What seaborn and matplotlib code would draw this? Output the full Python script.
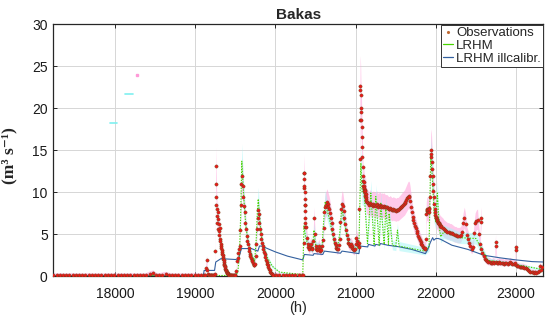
import numpy as np
import pandas as pd
import matplotlib
matplotlib.use("Agg")
import matplotlib.pyplot as plt
from matplotlib.lines import Line2D
import seaborn as sns

# ---------------- data ----------------
# observation segments: (start hour, step hours, flow values m3/s)
obs_seg1 = (17230, 40, [0.1, 0.1, 0.12, 0.1, 0.1, 0.1, 0.12, 0.1, 0.1, 0.1,
                        0.1, 0.12, 0.1, 0.1, 0.1, 0.1, 0.1, 0.12, 0.1, 0.1,
                        0.1, 0.1, 0.1, 0.1, 0.12, 0.1, 0.1, 0.1, 0.1, 0.15,
                        0.3, 0.4, 0.15, 0.12, 0.2, 0.25, 0.15, 0.1, 0.1, 0.1,
                        0.1, 0.1, 0.1, 0.12, 0.12, 0.1, 0.1, 0.1])
obs_seg2 = (19120, 10, [0.12, 1.0, 1.9, 0.8, 0.3, 0.15, 0.12, 0.1, 0.1, 0.1, 0.12, 0.15])
obs_seg3 = (19244, 4, [0.3, 3.0, 8.5, 13.1, 11.0, 9.4, 8.0, 7.2, 6.4, 7.6,
                       6.8, 5.6, 6.2, 5.4, 4.9, 4.5, 5.8, 4.2, 3.8, 3.6,
                       3.4, 3.1, 2.9, 2.7, 2.5, 2.3, 2.1, 1.9, 1.7, 1.5,
                       1.35, 1.2, 1.05, 0.9, 0.8, 0.7, 0.6, 0.5, 0.45, 0.4,
                       0.35, 0.3, 0.25, 0.2, 0.18])
obs_seg4 = (19430, 10, [0.15, 0.15, 0.12, 0.1, 0.1, 0.1, 0.12, 0.15, 0.6, 1.8])
obs_seg5 = (19528, 8, [2.2, 2.8, 3.2, 3.6, 5.5, 8.5, 11.0, 12.0, 10.8, 9.5,
                       8.4, 7.6, 6.4, 5.6, 4.8, 4.2, 3.8, 3.4, 3.0, 2.7,
                       2.4, 2.2, 2.0, 1.8, 1.6, 1.4, 1.3, 1.5, 2.4, 3.8,
                       5.6, 7.0, 7.9, 7.4, 6.4, 5.6, 5.0, 4.4, 4.0, 3.6,
                       3.2, 2.9, 2.6, 2.3, 2.0, 1.7, 1.5, 1.3, 1.1, 0.9,
                       0.7, 0.55, 0.4, 0.3, 0.25])
obs_seg6 = (19968, 40, [0.2, 0.15, 0.12, 0.1, 0.1, 0.1, 0.1, 0.1, 0.12, 0.15])
obs_seg7 = (20340, 10, [0.2, 4.0, 12.3, 8.5, 5.9, 4.6, 3.9, 3.5, 3.3, 3.5,
                        3.8, 3.4, 3.2, 4.2, 6.9, 5.0, 3.6, 3.3, 3.1, 3.3,
                        3.6, 3.3, 3.0, 3.1, 3.6, 4.3, 5.8, 7.6, 8.3, 8.5,
                        8.8, 8.6, 8.3, 8.0, 7.5, 7.0, 6.3, 5.6, 5.0, 4.4,
                        4.0, 3.7, 3.4, 3.2, 3.3, 3.7, 4.5, 6.5, 8.0, 8.6,
                        8.4, 7.8, 7.0, 6.2, 5.5, 4.9, 4.4, 4.0, 3.8, 3.6,
                        3.8, 3.6, 3.4, 3.2, 3.1, 3.3, 3.8, 4.6, 4.2, 3.7,
                        3.5])
obs_seg7b = (20354, 2, [10.5, 12.3, 11.6, 10.8, 10.0, 9.2, 8.5, 7.8, 7.0, 6.4, 5.9])
obs_seg8 = (21044, 3, [4.0, 8.0, 14.0, 18.6, 22.6, 22.2, 21.6, 20.0, 19.6, 18.6,
                       17.8, 16.6, 15.4, 14.2, 13.0, 12.0, 11.4, 10.8, 10.4, 10.8,
                       11.2, 10.5, 10.1, 10.3, 9.9, 9.6, 10.2, 9.8, 9.4, 9.2,
                       9.0, 8.9, 8.8])
obs_seg9 = (21150, 10, [8.7, 8.6, 8.5, 8.7, 8.6, 8.5, 8.4, 8.6, 8.5, 8.5,
                        8.4, 8.6, 8.5, 8.3, 8.4, 8.5, 8.4, 8.3, 8.4, 8.3,
                        8.4, 8.3, 8.2, 8.2, 8.2, 8.1, 8.0, 8.0, 8.1, 8.0,
                        7.9, 7.9, 8.0, 7.9, 7.9, 7.8, 7.9, 7.9, 7.9, 8.0,
                        8.1, 8.2, 8.3, 8.4, 8.5, 8.6, 8.7, 8.9, 9.1, 9.3,
                        9.5, 9.6, 9.5, 9.0, 8.3, 7.6, 7.1, 6.7, 6.3, 6.0,
                        5.7, 5.4, 5.1, 4.8, 4.6, 4.3, 4.1, 3.9, 3.7, 3.5,
                        3.4, 3.3])
obs_seg10 = (21870, 5, [3.4, 4.5, 7.4, 7.8, 8.0, 7.9, 7.6, 7.9, 8.1, 7.7,
                        8.0, 9.5, 12.0, 14.2, 15.0, 14.6, 13.6, 12.8, 12.0, 11.0,
                        10.2, 9.4, 8.6, 8.0, 7.6, 7.3, 7.1, 6.9, 6.8, 6.7,
                        6.6, 6.5, 6.4, 6.3, 6.3, 6.2, 6.1, 6.0, 6.0])
obs_seg11 = (22070, 15, [5.9, 5.8, 5.6, 5.5, 5.4, 5.3, 5.3, 5.2, 5.2, 5.1,
                         5.0, 4.9, 4.9, 4.8, 4.8, 4.8, 4.9, 5.3, 6.3, 6.9,
                         6.2, 4.9, 4.5, 4.0, 3.6, 3.3, 3.5, 5.2, 6.3, 6.6,
                         6.7, 5.0, 3.8, 3.2, 2.8, 2.4, 2.1, 1.9, 1.8, 1.7,
                         1.7, 1.6, 1.6, 1.7, 1.6, 1.7, 1.6, 1.6, 1.7, 1.6,
                         1.6, 1.6, 1.5, 1.6, 1.6, 1.5, 1.6, 1.7, 1.6, 1.5,
                         1.5, 1.6, 1.4, 1.2, 1.2, 1.1, 1.1, 1.1, 1.1, 1.0,
                         1.0, 0.9, 0.7, 0.6, 0.5, 0.5, 0.5, 0.4, 0.5, 0.4,
                         0.5, 0.6, 1.2, 0.8, 1.1])
obs_extra_t = [22560, 22563, 22745, 22748, 22994, 22997]
obs_extra_v = [6.9, 6.5, 4.1, 3.6, 3.5, 3.1]

# LRHM (calibrated) simulation
lrhm_t = [17230, 19500, 19530, 19550, 19565, 19580, 19595, 19610, 19630, 19660,
          19700, 19740, 19760, 19775, 19785, 19800, 19820, 19850, 19900, 19960,
          20050, 20340, 20355, 20370, 20400, 20460, 20480, 20500, 20580, 20600,
          20620, 20640, 20680, 20740, 20770, 20800, 20825, 20850, 20900, 20970,
          21040, 21055, 21065, 21080, 21106, 21147, 21189, 21230, 21251, 21293,
          21313, 21355, 21376, 21409, 21417, 21458, 21500, 21521, 21541, 21700,
          21860, 21915, 21936, 21955, 21978, 21998, 22019, 22040, 22060, 22100,
          22300, 22500, 22650, 23000, 23340]
lrhm_v = [0.05, 0.1, 0.5, 2.5, 7.0, 13.7, 11.0, 8.5, 6.0, 4.0,
          2.6, 1.8, 4.5, 8.0, 9.2, 7.2, 5.0, 3.5, 2.2, 1.2,
          0.5, 0.2, 6.0, 5.0, 3.8, 3.3, 5.5, 3.6, 3.4, 6.5,
          8.9, 8.0, 6.5, 3.8, 3.3, 5.0, 8.0, 7.0, 4.3, 3.3,
          3.4, 10.0, 13.5, 10.0, 9.9, 3.9, 9.9, 3.7, 9.5, 3.7,
          8.7, 3.8, 8.3, 3.8, 7.5, 3.7, 3.6, 5.5, 3.6, 3.3,
          3.0, 3.5, 14.4, 12.0, 7.5, 6.5, 9.9, 6.0, 4.7, 5.3,
          4.6, 4.5, 1.9, 1.4, 0.8]

# LRHM ill-calibrated simulation
ill_t = [17230, 19100, 19110, 19240, 19255, 19320, 19500, 19540, 19575, 19700,
         19780, 19800, 19830, 19900, 20000, 20150, 20340, 20360, 20470, 20480,
         20590, 20610, 20810, 20830, 21040, 21055, 21150, 21160, 21240, 21250,
         21300, 21310, 21400, 21550, 21700, 21870, 21900, 21930, 21960, 21975,
         22000, 22030, 22060, 22200, 22400, 22600, 22800, 23000, 23200, 23340]
ill_v = [0.05, 0.05, 0.7, 0.7, 1.7, 2.1, 2.0, 2.1, 3.3, 3.3,
         3.0, 3.6, 3.6, 3.3, 2.9, 2.4, 1.95, 2.6, 2.5, 2.7,
         2.6, 3.0, 2.75, 3.0, 2.7, 3.6, 3.5, 3.8, 3.6, 3.8,
         3.7, 3.9, 3.7, 3.5, 3.2, 2.7, 3.2, 4.0, 4.6, 4.3,
         4.5, 4.5, 4.4, 3.7, 3.2, 2.5, 2.2, 1.95, 1.75, 1.7]

# stray marks seen in the upper-left of the reference
stray_cyan_t = [[17935, 18025], [18120, 18225]]
stray_cyan_v = [[18.3, 18.3], [21.65, 21.65]]
stray_pink_t = [18278]
stray_pink_v = [24.0]

OBS_REL_UNC = 0.15
OBS_ABS_UNC = 0.3
SIM_REL_UNC = 0.15

x_ticks = [18000, 19000, 20000, 21000, 22000, 23000]
y_ticks = [0, 5, 10, 15, 20, 25, 30]

# ---------------- build tables ----------------
def expand(seg):
    start, step, vals = seg
    return [start + step * i for i in range(len(vals))], list(vals)

segs = [obs_seg1, obs_seg2, obs_seg3, obs_seg4, obs_seg5, obs_seg6, obs_seg7,
        obs_seg7b, obs_seg8, obs_seg9, obs_seg10, obs_seg11]
ot, ov = [], []
for s in segs:
    t, v = expand(s)
    ot += t
    ov += v
ot += obs_extra_t
ov += obs_extra_v
obs = pd.DataFrame({"t": ot, "q": ov}).sort_values("t").reset_index(drop=True)
lrhm = pd.DataFrame({"t": lrhm_t, "q": lrhm_v})
ill = pd.DataFrame({"t": ill_t, "q": ill_v})

# ---------------- plot ----------------
sns.set_style("ticks")
plt.rcParams["font.family"] = ["Liberation Sans", "DejaVu Sans"]

fig = plt.figure(figsize=(5.5, 3.23), dpi=100)
ax = fig.add_axes([53.3 / 550, 1 - 276.3 / 323, 490 / 550, 252 / 323])

lo = (obs["q"] * (1 - OBS_REL_UNC) - 0.1).clip(lower=0)
hi = obs["q"] * (1 + OBS_REL_UNC) + OBS_ABS_UNC
ax.fill_between(obs["t"], lo, hi, color="#ffa6dc", alpha=0.6, linewidth=0, zorder=1)
ax.fill_between(lrhm["t"], lrhm["q"] * (1 - SIM_REL_UNC), lrhm["q"] * (1 + SIM_REL_UNC),
                color="#a8f6f6", alpha=0.55, linewidth=0, zorder=1)
for tt, vv in zip(stray_cyan_t, stray_cyan_v):
    ax.plot(tt, vv, color="#7ff0f0", lw=1.2, zorder=2)
ax.plot(stray_pink_t, stray_pink_v, "s", color="#ff9ad8", ms=1.5, zorder=2)

sns.lineplot(data=ill, x="t", y="q", ax=ax, color="#33609f", lw=0.8,
             estimator=None, sort=False, zorder=3)
sns.lineplot(data=lrhm, x="t", y="q", ax=ax, color="#48d400", lw=0.8,
             estimator=None, sort=False, zorder=3, linestyle=(0, (1.2, 1.2)))
sns.scatterplot(data=obs, x="t", y="q", ax=ax, s=5.5, color="#ea1a1a",
                edgecolor="#74461c", linewidth=0.3, zorder=4)

ax.set_xlim(17229, 23340)
ax.set_ylim(0, 30)
ax.set_xticks(x_ticks)
ax.set_yticks(y_ticks)
ax.grid(True, color="#d6d6d6", lw=0.7, zorder=0)
ax.set_axisbelow(True)
for sp in ax.spines.values():
    sp.set_color("#262626")
    sp.set_linewidth(0.9)
    sp.set_visible(True)
ax.tick_params(direction="in", length=3, width=0.7, top=True, right=True,
               labelsize=10, colors="#262626")
ax.tick_params(axis="x", pad=8)
ax.tick_params(axis="y", pad=4)
for lab in ax.get_xticklabels() + ax.get_yticklabels():
    lab.set_color("#1a1a1a")

ax.set_title("Bakas", fontsize=11, fontweight="bold", pad=4)
ax.set_xlabel("(h)", fontsize=10.5, labelpad=0)
ax.set_ylabel("(m³ s⁻¹)", fontsize=12.5, fontweight="bold",
              family=["Liberation Serif", "DejaVu Serif"])
ax.yaxis.set_label_coords(-0.073, 0.48)

handles = [
    Line2D([], [], marker=".", ls="none", color="#c06a34", ms=2.5),
    Line2D([], [], color="#48d400", lw=0.9),
    Line2D([], [], color="#33609f", lw=0.9),
]
leg = ax.legend(handles, ["Observations", "LRHM", "LRHM illcalibr."],
                loc="upper right", fontsize=9.5, handlelength=0.7,
                handletextpad=0.25, labelspacing=0.05, borderpad=0.15,
                borderaxespad=0.05, frameon=True, fancybox=False)
leg.get_frame().set_edgecolor("#333333")
leg.get_frame().set_linewidth(0.7)
leg.get_frame().set_alpha(1)

fig.savefig("out.png", dpi=100)
